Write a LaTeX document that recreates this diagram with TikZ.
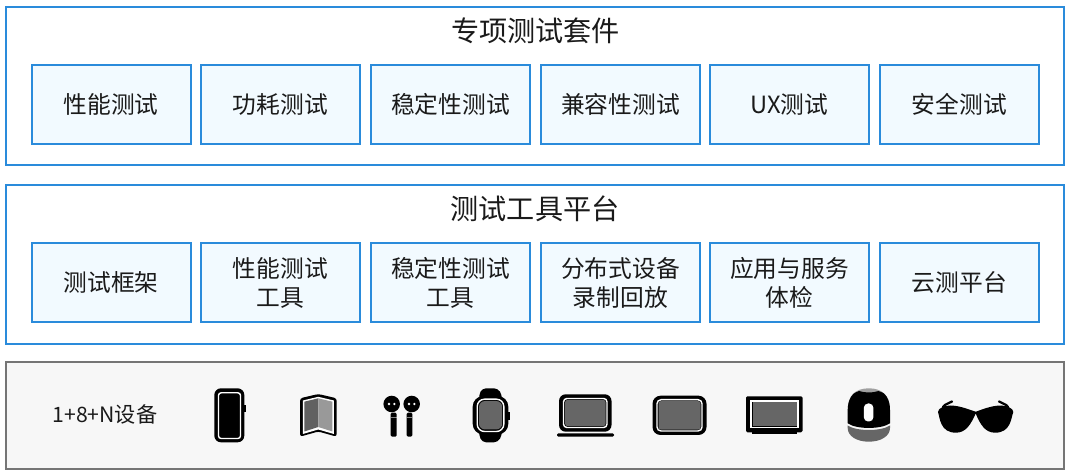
\documentclass[tikz,border=0pt]{standalone}
\usepackage{fontspec}
\setmainfont{Noto Sans CJK SC}
\definecolor{frameblue}{HTML}{2A8BDB}
\definecolor{cellfill}{HTML}{F2FAFF}
\definecolor{devframe}{HTML}{757575}
\definecolor{devfill}{HTML}{F7F7F7}
\definecolor{screengray}{HTML}{666666}
\definecolor{inktext}{HTML}{1A1A1A}
\tikzset{
  groupbox/.style={draw=frameblue,line width=1.5pt,fill=white,minimum width=793.5pt,inner sep=0pt},
  cellbox/.style={draw=frameblue,line width=1.5pt,fill=cellfill,minimum width=119pt,minimum height=59.25pt,inner sep=0pt,
    align=center,text=inktext,font=\fontsize{17.8}{21.75}\selectfont},
  titlelabel/.style={text=inktext,inner sep=0pt,font=\fontsize{21.1}{25}\selectfont},
  screen/.style={fill=screengray},
  ringline/.style={draw=white,line width=1.05pt},
  bodyink/.style={fill=black}
}
\begin{document}
\begin{tikzpicture}[x=0.75pt,y=-0.75pt]
\useasboundingbox (0,0) rectangle (1070,473);

\node[groupbox,minimum height=118.5pt] (suite) at (535,86.3) {};
\node[titlelabel] (suitetitle) at (535.5,31) {专项测试套件};
\node[cellbox] (perf) at (111.2,104.5) {性能测试};
\node[cellbox] (power) at (280.4,104.5) {功耗测试};
\node[cellbox] (stable) at (450.4,104.5) {稳定性测试};
\node[cellbox] (compat) at (620.4,104.5) {兼容性测试};
\node[cellbox] (ux) at (789.4,104.5) {UX测试};
\node[cellbox] (safe) at (959.4,104.5) {安全测试};

\node[groupbox,minimum height=119.25pt] (tools) at (535,264.5) {};
\node[titlelabel] (toolstitle) at (535,208.5) {测试工具平台};
\node[cellbox] (frame) at (111.2,282.5) {测试框架};
\node[cellbox] (perftool) at (280.4,282.5) {性能测试\\工具};
\node[cellbox] (stabletool) at (450.4,282.5) {稳定性测试\\工具};
\node[cellbox] (record) at (620.4,282.5) {分布式设备\\录制回放};
\node[cellbox] (check) at (789.4,282.5) {应用与服务\\体检};
\node[cellbox] (cloud) at (959.4,282.5) {云测平台};

\node[draw=devframe,line width=1.5pt,fill=devfill,minimum width=793.5pt,minimum height=80pt,inner sep=0pt] (devices) at (535,415.5) {};
\node[text=inktext,inner sep=0pt,font=\fontsize{15.9}{18}\selectfont] (devlabel) at (105,414.5) {1+8+N设备};

% phone
\fill[bodyink] (243,405) rectangle (246,412.5);
\fill[bodyink,rounded corners=5pt] (214.3,388.3) rectangle (244.3,442.3);
\draw[ringline,rounded corners=2pt] (218.5,392.8) rectangle (240.5,438.5);

% foldable
\fill[bodyink,rounded corners=2pt] (300,398.3) -- (318.3,394) -- (336.7,398.3) -- (336.7,436.7) -- (318.3,431.5) -- (300,436.7) -- cycle;
\fill[white] (302.8,400.5) -- (318.3,396.8) -- (333.9,400.5) -- (333.9,434) -- (318.3,429.5) -- (302.8,434) -- cycle;
\fill[black!62] (304.3,401.7) -- (318.3,398.3) -- (318.3,427) -- (304.3,431.5) -- cycle;
\fill[black!40] (318.3,398.3) -- (332.4,401.7) -- (332.4,431.5) -- (318.3,427) -- cycle;

% earbuds
\fill[bodyink] (391.7,404) circle (6.2pt);
\fill[bodyink] (411.7,404) circle (6.2pt);
\fill[white] (389,404) circle (1pt) (394.4,404) circle (1pt);
\fill[white] (409,404) circle (1pt) (414.4,404) circle (1pt);
\fill[bodyink,rounded corners=1pt] (390.7,412.7) rectangle (396.7,436.7);
\fill[bodyink,rounded corners=1pt] (406.7,412.7) rectangle (412.3,436.7);
\draw[white,opacity=.5,line width=0.4pt] (390.7,417.7) -- (396.7,417.7);
\draw[white,opacity=.5,line width=0.4pt] (406.7,417.7) -- (412.3,417.7);

% watch
\fill[bodyink] (508,411.7) rectangle (510,420);
\fill[bodyink,rounded corners=3pt] (479,395) -- (482,388.3) -- (498,388.3) -- (502,395) -- (502,435) -- (498,442.3) -- (482,442.3) -- (479,435) -- cycle;
\fill[bodyink,rounded corners=8pt] (472.7,396) rectangle (508.3,434.5);
\draw[ringline,rounded corners=5.5pt] (477.2,399.2) rectangle (503.8,431.5);
\fill[screen,rounded corners=4.5pt] (479,401) rectangle (502.2,429.5);

% laptop
\fill[bodyink,rounded corners=5pt] (559,394.3) rectangle (611.5,431.7);
\draw[ringline,rounded corners=2.5pt] (563.5,398.5) rectangle (607,427.5);
\fill[screen,rounded corners=1.5pt] (565.2,400) rectangle (605.5,426);
\fill[bodyink,rounded corners=1pt] (557,433.3) rectangle (614,436.7);

% tablet
\fill[bodyink,rounded corners=6pt] (652.5,395.7) rectangle (706.5,435);
\draw[ringline,rounded corners=3pt] (657,399.7) rectangle (702,431);
\fill[screen,rounded corners=2pt] (658.5,401) rectangle (700.5,429.7);

% screen
\fill[bodyink,rounded corners=1pt] (746,396.3) rectangle (802.5,432.3);
\fill[bodyink] (752,431) rectangle (797,434.3);
\draw[ringline] (751,401) rectangle (798,427.7);
\fill[screen] (752.5,402.3) rectangle (796.5,426.3);

% speaker
\fill[screengray,opacity=.6] (847.7,410) .. controls (847.7,396) and (855,388.3) .. (868.8,388.3) .. controls (882.5,388.3) and (890,396) .. (890,410) -- cycle;
\fill[bodyink] (847.7,410) .. controls (847.7,399) and (853,392) .. (859,391) .. controls (865,393) and (873,393) .. (878.5,391) .. controls (885,392) and (890,399) .. (890,410) -- (890,423.3) .. controls (881,429.5) and (856.5,429.5) .. (847.7,423.3) -- cycle;
\fill[white,rounded corners=3.2pt] (863.8,403.5) rectangle (873.4,421.5);
\fill[screen] (847.7,425.5) .. controls (856.5,431.5) and (881,431.5) .. (890,425.5) -- (890,428) .. controls (890,436) and (881,441.7) .. (868.8,441.7) .. controls (856.5,441.7) and (847.7,436) .. (847.7,428) -- cycle;

% glasses
\draw[black,line width=1.7pt,line cap=round] (943,407) .. controls (945,403.5) and (949,404) .. (952,401.5);
\draw[black,line width=1.7pt,line cap=round] (1008,407) .. controls (1006,403.5) and (1002,404) .. (999,401.5);
\fill[bodyink] (938,412) .. controls (938,408) and (945,405.5) .. (950,405.5) .. controls (960,405.5) and (970,410) .. (975.7,411.7)
  .. controls (981,410) and (991,405.5) .. (1001,405.5) .. controls (1006,405.5) and (1013.3,408) .. (1013.3,412)
  .. controls (1011,418) and (1011,432.7) .. (995,432.7) .. controls (985,432.7) and (980,424) .. (975.7,413.5)
  .. controls (971,424) and (966,432.7) .. (956,432.7) .. controls (940,432.7) and (940,418) .. (938,412) -- cycle;
\end{tikzpicture}
\end{document}
